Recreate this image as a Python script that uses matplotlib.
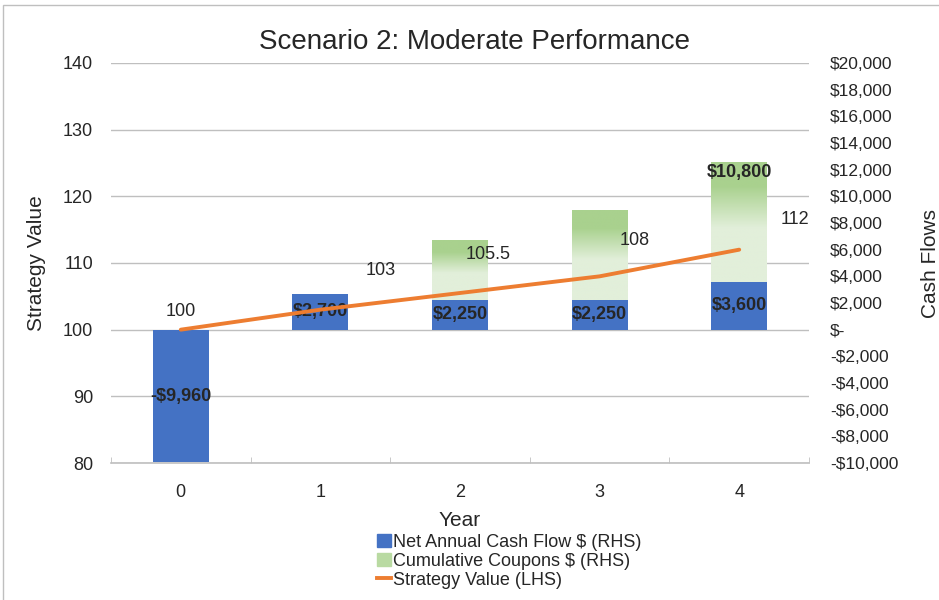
import numpy as np
import matplotlib
matplotlib.use('agg')
import matplotlib.pyplot as plt
from matplotlib.colors import LinearSegmentedColormap
from matplotlib.patches import Rectangle, Patch
from matplotlib.lines import Line2D

plt.rcParams['font.family'] = ['Liberation Sans', 'DejaVu Sans']

years = [0, 1, 2, 3, 4]
net_cash = [-9960, 2700, 2250, 2250, 3600]
cum_coupons = [0, 0, 4500, 6750, 9000]
strategy_value = [100, 103, 105.5, 108, 112]
net_labels = ['-$9,960', '$2,700', '$2,250', '$2,250', '$3,600']
top_label = '$10,800'
# label spots for the line values (in data units, as placed in the sheet)
value_label_x = [0.0, 1.43, 2.2, 3.25, 4.4]
value_label_y = [102.7, 108.9, 111.3, 113.4, 116.5]
value_labels = ['100', '103', '105.5', '108', '112']

blue = '#4472C4'
orange = '#ED7D31'
green = '#A9D18E'
light_green = '#E2EFDA'
txt = '#262626'
fs = 13

fig = plt.figure(figsize=(9.39, 6), dpi=100)
ax = fig.add_axes([111/939, 1-463/600, 698/939, 400/600])
ax2 = ax.twinx()

# cash flow bars on the main axis (right scale)
width = 0.4
ax.bar(years, net_cash, width, color=blue, zorder=2)
coup_bars = ax.bar(years, cum_coupons, width, bottom=[max(v, 0) for v in net_cash],
                   color=light_green, zorder=2)

# gradient: light at bottom, green at top
cmap = LinearSegmentedColormap.from_list('g', [(0, light_green), (0.45, light_green),
                                               (0.8, green), (1, green)])
grad = np.linspace(0, 1, 256).reshape(-1, 1)
for b in coup_bars:
    if b.get_height() <= 0:
        continue
    x0 = b.get_x()
    y0 = b.get_y()
    ax.imshow(grad, extent=[x0, x0 + b.get_width(), y0, y0 + b.get_height()],
              origin='lower', aspect='auto', cmap=cmap, zorder=2.5)

for x, v, lab in zip(years, net_cash, net_labels):
    ax.text(x, v / 2, lab, ha='center', va='center', fontsize=fs,
            fontweight='bold', color=txt, zorder=5)
ax.text(years[-1], net_cash[-1] + cum_coupons[-1] - 200, top_label, ha='center',
        va='top', fontsize=fs, fontweight='bold', color=txt, zorder=5)

ax.set_xlim(-0.5, 4.5)
ax.set_ylim(-10000, 20000)
ax.set_yticks(np.arange(-10000, 20001, 2000))


def money(v):
    if v == 0:
        return '$-'
    if v < 0:
        return '-${:,.0f}'.format(-v)
    return '${:,.0f}'.format(v)


ax.set_yticklabels([money(v) for v in np.arange(-10000, 20001, 2000)])
ax.yaxis.tick_right()
ax.yaxis.set_label_position('right')
ax.tick_params(axis='y', length=0, pad=15, labelsize=12.5, labelcolor=txt)
for lab in ax.get_yticklabels():
    lab.set_horizontalalignment('left')

ax.set_xticks(years)
ax.set_xticks([-0.5, 0.5, 1.5, 2.5, 3.5, 4.5], minor=True)
ax.tick_params(axis='x', which='major', length=0, pad=15, labelsize=fs, labelcolor=txt)
ax.tick_params(axis='x', which='minor', length=4, color='#BFBFBF', direction='in')
ax.set_xlabel('Year', fontsize=15, color=txt, labelpad=7)

for s in ['top', 'left', 'right']:
    ax.spines[s].set_visible(False)
    ax2.spines[s].set_visible(False)
ax.spines['bottom'].set_color('#BFBFBF')
ax.spines['bottom'].set_linewidth(1.2)
ax2.spines['bottom'].set_visible(False)

# strategy value line on the left scale
ax2.plot(years, strategy_value, color=orange, lw=2.8, solid_capstyle='round', zorder=4)
for x, y, lab in zip(value_label_x, value_label_y, value_labels):
    ax2.text(x, y, lab, ha='center', va='center', fontsize=fs, color=txt)
ax2.set_ylim(80, 140)
ax2.set_yticks(np.arange(80, 141, 10))
ax2.yaxis.tick_left()
ax2.yaxis.set_label_position('left')
ax2.tick_params(axis='y', length=0, pad=13, labelsize=fs, labelcolor=txt)
ax.set_zorder(1)
ax2.set_zorder(2)
ax2.patch.set_visible(False)
ax.patch.set_visible(False)

# gridlines behind the bars, on the bar axis (right-scale steps of 5000)
for gv in np.arange(-10000, 20001, 5000):
    ax.axhline(gv, color='#BFBFBF', lw=1, zorder=0)

fig.text(37/939, 1-263/600, 'Strategy Value', rotation=90, ha='center', va='center',
         fontsize=15, color=txt)
fig.text(930/939, 1-263/600, 'Cash Flows', rotation=90, ha='center', va='center',
         fontsize=15, color=txt)
fig.text(475/939, 1-42/600, 'Scenario 2: Moderate Performance', ha='center', va='center',
         fontsize=20, color=txt)

handles = [Patch(color=blue), Patch(color='#B9DAA2'),
           Line2D([0], [0], color=orange, lw=2.8)]
fig.legend(handles, ['Net Annual Cash Flow $ (RHS)', 'Cumulative Coupons $ (RHS)',
                     'Strategy Value (LHS)'],
           loc='upper left', bbox_to_anchor=(377/939, 1-534/600), frameon=False,
           fontsize=fs, handlelength=0.8, handletextpad=0.1, labelspacing=0.1,
           borderaxespad=0, borderpad=0, labelcolor=txt)

fig.patches.append(Rectangle((3/939, -0.1), 2, 1.1 - 5/600, transform=fig.transFigure,
                             fill=False, edgecolor='#BFBFBF', lw=1))

fig.savefig('out.png', dpi=100)
